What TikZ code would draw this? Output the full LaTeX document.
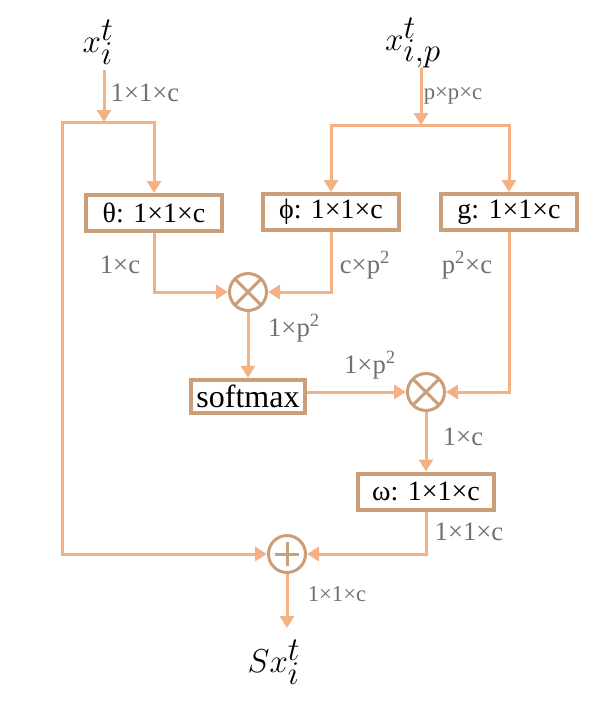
\documentclass[tikz,border=0pt]{standalone}
\usepackage{fontspec}
\setmainfont{Liberation Serif}
\usepackage{tikz}
\usetikzlibrary{arrows.meta,calc,positioning}

\definecolor{flowc}{RGB}{244,177,131}
\definecolor{boxc}{RGB}{203,158,122}
\definecolor{dimc}{RGB}{112,112,112}

\tikzset{
  blk/.style={draw=boxc,line width=3pt,fill=white,inner sep=0pt,
    minimum width=102pt,minimum height=27pt,font=\fontsize{21}{21}\selectfont},
  op/.style={circle,draw=boxc,line width=2.25pt,fill=white,inner sep=0pt,
    minimum size=27.75pt},
  flow/.style={flowc,line width=2.25pt},
  dim/.style={text=dimc,inner sep=0pt,font=\fontsize{20}{20}\selectfont},
  sdim/.style={dim,font=\fontsize{17}{17}\selectfont},
  sig/.style={inner sep=0pt,font=\fontsize{35}{35}\selectfont}
}

\begin{document}
\begin{tikzpicture}[x=0.75pt,y=-0.75pt,>={Triangle[width=10.5pt,length=9pt]}]
  \useasboundingbox (0,0) rectangle (595,708);
  % inputs and output
  \node[sig] (xin) at (98,42)  {$x_i^t$};
  \node[sig] (xp)  at (413,43) {$x_{i,p}^t$};
  \node[sig] (sx)  at (274,662) {$Sx_i^t$};
  \coordinate (xinout) at (104,70);
  \coordinate (xpout)  at (421,68);
  \coordinate (s1) at (104,122);
  \coordinate (c1) at (62,122);
  \coordinate (s2) at (421,125);
  \coordinate (sxin) at (287,628);
  % blocks
  \node[blk] (theta) at (154,213) {θ: 1×1×c};
  \node[blk] (phi)   at (331,212) {ϕ: 1×1×c};
  \node[blk] (g)     at (509,212) {g: 1×1×c};
  \node[blk,minimum width=86pt,minimum height=25pt,
        font=\fontsize{24}{24}\selectfont] (soft) at (248,396.5) {softmax};
  \node[blk] (omega) at (426,491.5) {ω: 1×1×c};
  % operators
  \node[op,path picture={
    \draw[boxc,line width=2.25pt]
      (path picture bounding box.north west) -- (path picture bounding box.south east)
      (path picture bounding box.north east) -- (path picture bounding box.south west);
  }] (ot1) at (248,292) {};
  \node[op,path picture={
    \draw[boxc,line width=2.25pt]
      (path picture bounding box.north west) -- (path picture bounding box.south east)
      (path picture bounding box.north east) -- (path picture bounding box.south west);
  }] (ot2) at (426,392) {};
  \node[op,path picture={
    \draw[boxc,line width=2.25pt]
      ([yshift=9pt]path picture bounding box.center) -- ([yshift=-9pt]path picture bounding box.center)
      ([xshift=-9pt]path picture bounding box.center) -- ([xshift=9pt]path picture bounding box.center);
  }] (oplus) at (287,554) {};
  % connectors
  \draw[flow,->] (xinout) -- (s1);
  \draw[flow,->] (s1) -| (theta.north);
  \draw[flow,->] (s1) -- (c1) |- (oplus.west);
  \draw[flow,->] (xpout) -- (s2);
  \draw[flow,->] (s2) -| (phi.north);
  \draw[flow,->] (s2) -| (g.north);
  \draw[flow,->] (theta.south) |- (ot1.west);
  \draw[flow,->] (phi.south) |- (ot1.east);
  \draw[flow,->] (ot1.south) -- (soft.north);
  \draw[flow,->] (soft.east |- ot2.west) -- (ot2.west);
  \draw[flow,->] (g.south) |- (ot2.east);
  \draw[flow,->] (ot2.south) -- (omega.north);
  \draw[flow,->] (omega.south) |- (oplus.east);
  \draw[flow,->] (oplus.south) -- (sxin);
  % sizes
  \node[dim]  at (145,93)  {1×1×c};
  \node[sdim] at (453,96)  {p×p×c};
  \node[dim]  at (120,265) {1×c};
  \node[dim]  at (365,265) {c×p\textsuperscript{2}};
  \node[dim]  at (467,265) {p\textsuperscript{2}×c};
  \node[dim]  at (294,328) {1×p\textsuperscript{2}};
  \node[dim]  at (370,365) {1×p\textsuperscript{2}};
  \node[dim]  at (463,437) {1×c};
  \node[dim]  at (469,532) {1×1×c};
  \node[sdim] at (337,594) {1×1×c};
\end{tikzpicture}
\end{document}
